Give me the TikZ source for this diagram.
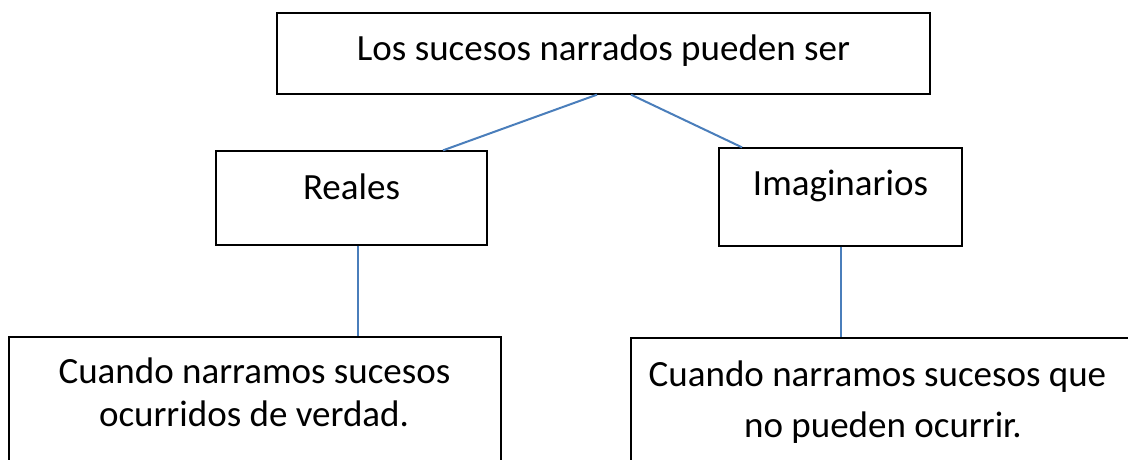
\documentclass[tikz,border=0pt]{standalone}
\usepackage{fontspec}
\setmainfont{Carlito}
\usetikzlibrary{calc}
\definecolor{linkblue}{HTML}{4A7EBB}
\begin{document}
\begin{tikzpicture}[x=1pt,y=-1pt,
  box/.style={draw=black,line width=1.3pt,fill=white,inner sep=0pt,rectangle},
  lbl/.style={font=\fontsize{37}{45}\selectfont,anchor=base,inner sep=0pt},
  link/.style={draw=linkblue,line width=2pt}]
\useasboundingbox (0,0) rectangle (1128,459);
\clip (0,0) rectangle (1128,459);
% boxes
\node[box,minimum width=653pt,minimum height=81pt] (top) at (603.5,53.5) {};
\node[box,minimum width=271pt,minimum height=94pt] (reales) at (351.5,198) {};
\node[box,minimum width=243pt,minimum height=98pt] (imag) at (840.5,197) {};
\node[box,minimum width=492pt,minimum height=143pt] (bl) at (255,408.5) {};
\node[box,minimum width=519pt,minimum height=142pt] (br) at (890.5,409) {};
% texts
\node[lbl] (t1) at (603.5,60) {Los sucesos narrados pueden ser};
\node[lbl] (t2) at (351.5,199) {Reales};
\node[lbl] (t3) at (840.5,195) {Imaginarios};
\node[lbl] (t4) at (254.5,383) {Cuando narramos sucesos};
\node[lbl] (t5) at (254,426) {ocurridos de verdad.};
\node[lbl] (t6) at (877.5,386) {Cuando narramos sucesos que};
\node[lbl] (t7) at (883,437) {no pueden ocurrir.};
% connectors
\draw[link] ([xshift=-6.5pt]top.south) -- ([xshift=91.5pt]reales.north);
\draw[link] ([xshift=27.5pt]top.south) -- ([xshift=-98.5pt]imag.north);
\draw[link] ([xshift=6.5pt]reales.south) -- ([xshift=6.5pt]reales.south |- bl.north);
\draw[link] ([xshift=0.5pt]imag.south) -- ([xshift=0.5pt]imag.south |- br.north);
\end{tikzpicture}
\end{document}
